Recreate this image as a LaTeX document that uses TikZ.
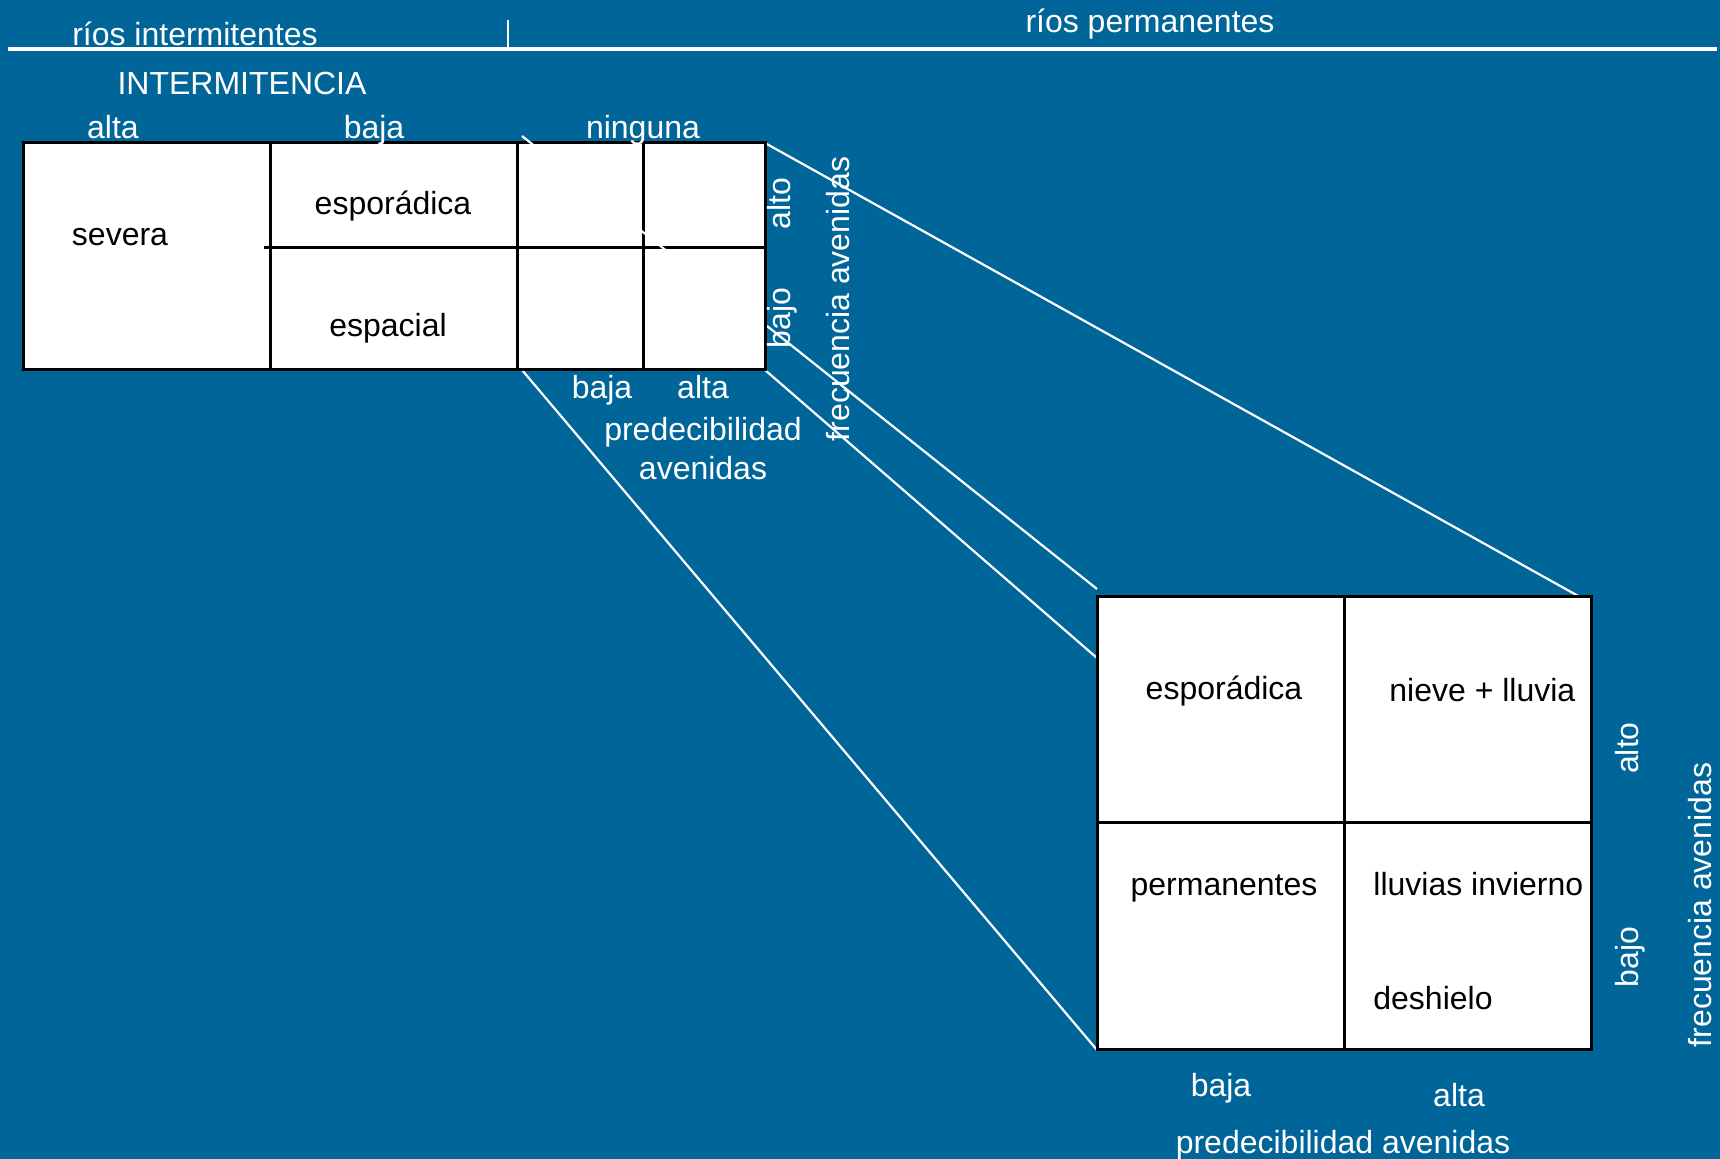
\documentclass[tikz,border=0pt]{standalone}
\usepackage{fontspec}
\setmainfont{Liberation Sans}
\definecolor{bg}{HTML}{006699}
\begin{document}
\begin{tikzpicture}[x=0.5pt,y=-0.5pt,
  lbl/.style={text=white,font=\fontsize{16}{19}\selectfont,inner sep=0pt},
  txt/.style={text=black,font=\fontsize{16}{19}\selectfont,inner sep=0pt},
  vlbl/.style={lbl,rotate=90,text height=0.72em,text depth=0pt,anchor=center},
  cell/.style={draw=black,fill=white,line width=1.5pt},
  conn/.style={draw=white,line width=1.1pt}]
\fill[bg] (0,0) rectangle (1720,1159);
\useasboundingbox (0,0) rectangle (1720,1159);

% header
\draw[white,line width=2pt] (8,49) -- (1717,49);
\draw[white,line width=1pt] (508,20) -- (508,48);
\node[lbl,anchor=base] (hint) at (195,46) {ríos intermitentes};
\node[lbl,anchor=base] (hperm) at (1150,33) {ríos permanentes};
\node[lbl,anchor=base] (hinter) at (242,95) {INTERMITENCIA};

% connector end points
\coordinate (str) at (765,143);
\coordinate (sbajo) at (767,326);
\coordinate (sbr) at (765,370);
\coordinate (sbl) at (522,370);
\coordinate (btr) at (1580,597);
\coordinate (ba) at (1097,589);
\coordinate (bb) at (1097,658);
\coordinate (bbl) at (1097,1050);

\draw[conn] (str) -- (btr);
\draw[conn] (sbajo) -- (ba);
\draw[conn] (sbr) -- (bb);
\draw[conn] (sbl) -- (bbl);

% small grid
\draw[cell] (23,143) rectangle (270,370);
\draw[cell] (270,143) rectangle (517,248);
\draw[cell] (270,248) rectangle (517,370);
\draw[cell] (517,143) rectangle (643,248);
\draw[cell] (643,143) rectangle (765,248);
\draw[cell] (517,248) rectangle (643,370);
\draw[cell] (643,248) rectangle (765,370);
\draw[black,line width=1.5pt] (264,248) -- (765,248);
\coordinate (stubA) at (522,136);
\coordinate (stubB) at (668,252);
\draw[conn] (stubA) -- (stubB);

\node[txt,anchor=base] (severa) at (120,246) {severa};
\node[txt,anchor=base] (spor) at (393,215) {esporádica};
\node[txt,anchor=base] (spac) at (388,337) {espacial};

\node[lbl,anchor=base] (ialta) at (113,139) {alta};
\node[lbl,anchor=base] (ibaja) at (374,139) {baja};
\node[lbl,anchor=base] (ining) at (643,139) {ninguna};

\node[vlbl] (salto) at (783,204) {alto};
\node[vlbl] (sbajol) at (783,318) {bajo};
\node[vlbl] (sfreq) at (842,299) {frecuencia avenidas};

\node[lbl,anchor=base] (sbaja) at (602,399) {baja};
\node[lbl,anchor=base] (salta) at (703,399) {alta};
\node[lbl,anchor=base] (spred) at (703,441) {predecibilidad};
\node[lbl,anchor=base] (saven) at (703,480) {avenidas};

% big grid
\draw[cell] (1097,597) rectangle (1344,823);
\draw[cell] (1344,597) rectangle (1591,823);
\draw[cell] (1097,823) rectangle (1344,1050);
\draw[cell] (1344,823) rectangle (1591,1050);

\node[txt,anchor=base] (bspor) at (1224,700) {esporádica};
\node[txt,anchor=base west] (bnieve) at (1389,702) {nieve + lluvia};
\node[txt,anchor=base] (bperm) at (1224,896) {permanentes};
\node[txt,anchor=base west] (blluv) at (1373,896) {lluvias invierno};
\node[txt,anchor=base west] (bdesh) at (1373,1010) {deshielo};

\node[vlbl] (balto) at (1631,748) {alto};
\node[vlbl] (bbajo) at (1631,957) {bajo};
\node[vlbl] (bfreq) at (1704,905) {frecuencia avenidas};

\node[lbl,anchor=base] (bbaja) at (1221,1096) {baja};
\node[lbl,anchor=base] (balta) at (1459,1107) {alta};
\node[lbl,anchor=base] (bpred) at (1343,1153) {predecibilidad avenidas};
\end{tikzpicture}
\end{document}
